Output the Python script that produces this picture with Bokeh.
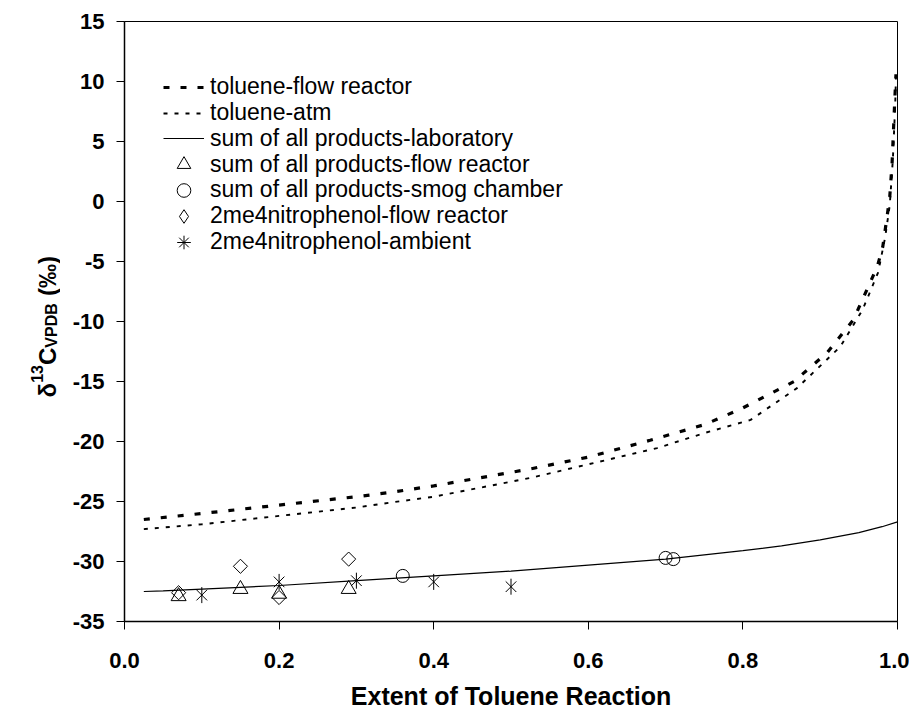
from bokeh.plotting import figure
from bokeh.models import (Range1d, FixedTicker, NumeralTickFormatter, Legend, LegendItem)
from bokeh.layouts import row
from bokeh.core.properties import value
from bokeh.embed import file_html
from bokeh.resources import INLINE
from math import pi

# ---- data ----
tol_flow_x = [0.025, 0.1, 0.2, 0.3, 0.343, 0.4, 0.524, 0.6, 0.68, 0.75, 0.797, 0.866, 0.909,
              0.943, 0.974, 0.981, 0.986, 0.990, 0.993, 0.995, 0.9965, 0.998]
tol_flow_y = [-26.5, -26.0, -25.3, -24.6, -24.25, -23.7, -22.3, -21.3, -19.9, -18.6, -17.3, -15.0, -12.6,
              -9.85, -5.4, -3.75, -1.5, 0.4, 3.2, 6.25, 8.5, 10.6]

tol_atm_x = [0.025, 0.1, 0.2, 0.3, 0.343, 0.4, 0.524, 0.6, 0.689, 0.75, 0.81, 0.87, 0.926,
             0.955, 0.975, 0.984, 0.990, 0.994, 0.997, 0.998]
tol_atm_y = [-27.3, -26.9, -26.2, -25.5, -25.1, -24.6, -23.05, -21.9, -20.55, -19.3, -18.2, -15.55, -12.1,
             -9.0, -5.9, -3.0, -0.3, 3.5, 8.0, 10.4]

lab_x = [0.025, 0.05, 0.1, 0.15, 0.2, 0.3, 0.4, 0.5, 0.6, 0.7, 0.8, 0.85, 0.9, 0.95, 0.98, 1.0]
lab_y = [-32.5, -32.45, -32.3, -32.15, -32.0, -31.6, -31.2, -30.8, -30.3, -29.8, -29.1, -28.7, -28.2, -27.6, -27.1, -26.7]

flow_sum_x = [0.07, 0.15, 0.2, 0.29]
flow_sum_y = [-32.9, -32.3, -32.7, -32.3]

smog_x = [0.36, 0.70, 0.71]
smog_y = [-31.2, -29.7, -29.8]

nitro_flow_x = [0.07, 0.15, 0.2, 0.29]
nitro_flow_y = [-32.6, -30.4, -33.0, -29.8]

nitro_amb_x = [0.10, 0.20, 0.30, 0.40, 0.50]
nitro_amb_y = [-32.8, -31.7, -31.6, -31.7, -32.1]

x_ticks = [0.0, 0.2, 0.4, 0.6, 0.8, 1.0]
y_ticks = [-35, -30, -25, -20, -15, -10, -5, 0, 5, 10, 15]
y_tick_labels = {t: str(t) for t in y_ticks}

legend_labels = ["toluene-flow reactor", "toluene-atm", "sum of all products-laboratory",
                 "sum of all products-flow reactor", "sum of all products-smog chamber",
                 "2me4nitrophenol-flow reactor", "2me4nitrophenol-ambient"]

FONT = "Liberation Sans"
H = 713
LW = 60            # width of the strip carrying the y-axis title
TOP, BOTTOM = 21, 92

# ---------- main plot ----------
p = figure(width=849, height=H, output_backend="svg", toolbar_location=None,
           x_range=Range1d(0, 1.0), y_range=Range1d(-35, 15),
           min_border_left=124 - LW, min_border_right=12, min_border_top=TOP, min_border_bottom=BOTTOM)
p.grid.visible = False
p.outline_line_color = "black"
p.outline_line_width = 1
p.background_fill_color = "white"

for ax in (p.xaxis[0], p.yaxis[0]):
    ax.axis_line_width = 1.5
    ax.axis_line_color = "black"
    ax.major_tick_out = 8
    ax.major_tick_in = 0
    ax.minor_tick_out = 0
    ax.minor_tick_in = 0
    ax.major_tick_line_color = "black"
    ax.major_label_text_font = FONT
    ax.major_label_text_font_style = "bold"
    ax.major_label_text_font_size = "22px"
    ax.major_label_text_color = "black"

p.xaxis.ticker = FixedTicker(ticks=x_ticks)
p.xaxis.formatter = NumeralTickFormatter(format="0.0")
p.yaxis.ticker = FixedTicker(ticks=y_ticks)
p.yaxis.major_label_overrides = y_tick_labels
p.xaxis.major_label_standoff = 23
p.yaxis.major_label_standoff = 12
p.xaxis.axis_label = "Extent of Toluene Reaction"
p.xaxis.axis_label_text_font = FONT
p.xaxis.axis_label_text_font_style = "bold"
p.xaxis.axis_label_text_font_size = "25px"
p.xaxis.axis_label_text_color = "black"
p.xaxis.axis_label_standoff = 11

# curves
r1 = p.line(tol_flow_x, tol_flow_y, line_color="black", line_width=3.2, line_dash="6 11")
r2 = p.line(tol_atm_x, tol_atm_y, line_color="black", line_width=1.9, line_dash="4 7")
r3 = p.line(lab_x, lab_y, line_color="black", line_width=1.2)

# markers
r4 = p.scatter(flow_sum_x, flow_sum_y, marker="triangle", size=15, fill_alpha=0,
               line_color="black", line_width=1)
r5 = p.scatter(smog_x, smog_y, marker="circle", size=13, fill_alpha=0,
               line_color="black", line_width=1)
r6 = p.scatter(nitro_flow_x, nitro_flow_y, marker="square", angle=pi/4, size=10, fill_alpha=0,
               line_color="black", line_width=1)
r7a = p.scatter(nitro_amb_x, nitro_amb_y, marker="x", size=15, line_color="black", line_width=1)
r7b = p.scatter(nitro_amb_x, nitro_amb_y, marker="dash", angle=pi/2, size=16, line_color="black", line_width=1)
# hidden twins used only for the legend symbols (legend glyphs are drawn unrotated)
r6_leg = p.scatter(nitro_flow_x, nitro_flow_y, marker="diamond", fill_alpha=0, line_color="black",
                   line_width=1, visible=False)
r7_leg = p.scatter(nitro_amb_x, nitro_amb_y, marker="asterisk", line_color="black",
                   line_width=1, visible=False)

legend_renderers = [[r1], [r2], [r3], [r4], [r5], [r6_leg], [r7_leg]]
for i, (lab, rends) in enumerate(zip(legend_labels, legend_renderers)):
    row_center = 86.7 + 25.8 * i          # screen y of the entry
    lg = Legend(items=[LegendItem(label=lab, renderers=rends)],
                location=(39, (H - BOTTOM) - (row_center + 17)), margin=0, padding=0, spacing=0,
                glyph_width=41, glyph_height=34, label_height=20, label_standoff=6,
                label_text_font=FONT, label_text_font_size="23px", label_text_color="black",
                border_line_alpha=0, background_fill_alpha=0, inactive_fill_alpha=0)
    p.add_layout(lg)

# ---------- strip with the y-axis title (superscript / subscript pieces) ----------
t = figure(width=LW, height=H, output_backend="svg", toolbar_location=None,
           x_range=Range1d(0, LW), y_range=Range1d(0, H - TOP - BOTTOM),
           x_axis_type=None, y_axis_type=None,
           min_border_left=0, min_border_right=0, min_border_top=TOP, min_border_bottom=BOTTOM)
t.grid.visible = False
t.outline_line_color = None

title_parts = ["δ", "13", "C", "VPDB", "(‰)"]
part_x = [46.7, 36.7, 46.7, 50.7, 46.7]
part_y = [224.0, 238.7, 256.5, 273.8, 325.5]
part_size = ["24px", "16px", "24px", "16px", "24px"]
for txt, xx, yy, fs in zip(title_parts, part_x, part_y, part_size):
    t.text(x=[xx], y=[yy], text=[txt], angle=pi/2, text_align="left",
           text_baseline="alphabetic", text_font=value(FONT), text_font_style="bold",
           text_font_size=value(fs), text_color="black")

layout = row(t, p)
open("out.html", "w").write(file_html(layout, INLINE))
